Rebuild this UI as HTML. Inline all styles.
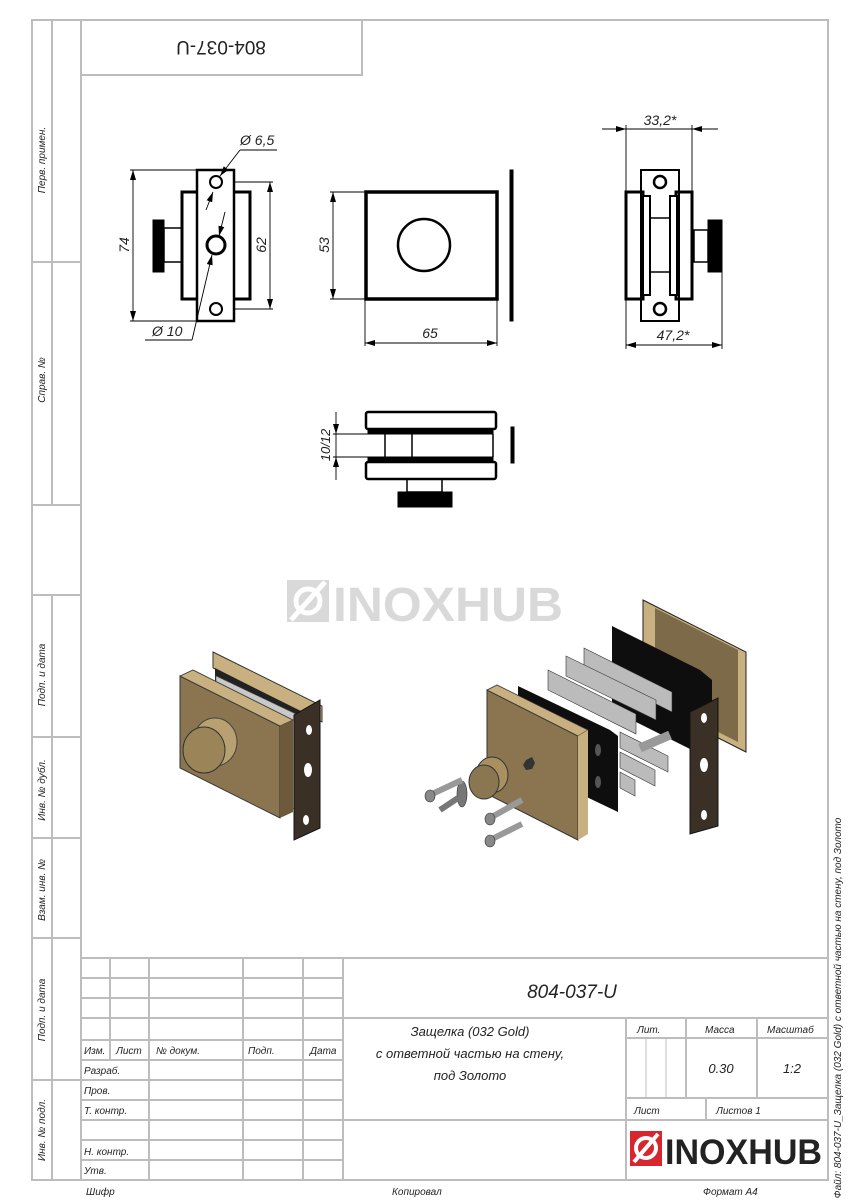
<!DOCTYPE html>
<html><head><meta charset="utf-8"><style>
html,body{margin:0;padding:0;background:#fff;}
svg{display:block;}
text{font-family:"Liberation Sans","DejaVu Sans",sans-serif;font-style:italic;fill:#222;}
.g{stroke:#bdbdbd;stroke-width:2;fill:none;}
.k{stroke:#000;fill:none;}
.d{stroke:#000;stroke-width:0.9;fill:none;}
</style></head><body>
<svg width="848" height="1200" viewBox="0 0 848 1200" xmlns="http://www.w3.org/2000/svg">
<defs>
<marker id="a" markerWidth="10" markerHeight="6" refX="10" refY="3" orient="auto-start-reverse" markerUnits="userSpaceOnUse"><path d="M0,0 L10,3 L0,6 z" fill="#000"/></marker>
</defs>
<!-- frame -->
<rect class="g" x="32" y="20" width="796" height="1160"/>
<line class="g" x1="81" y1="20" x2="81" y2="1180"/>
<line class="g" x1="52" y1="20" x2="52" y2="505"/>
<line class="g" x1="32" y1="262" x2="81" y2="262"/>
<line class="g" x1="32" y1="505" x2="81" y2="505"/>
<line class="g" x1="52" y1="595" x2="52" y2="1180"/>
<line class="g" x1="32" y1="595" x2="81" y2="595"/>
<line class="g" x1="32" y1="737" x2="81" y2="737"/>
<line class="g" x1="32" y1="838" x2="81" y2="838"/>
<line class="g" x1="32" y1="938" x2="81" y2="938"/>
<line class="g" x1="32" y1="1080" x2="81" y2="1080"/>
<rect class="g" x="81" y="20" width="281" height="55"/>
<text x="221" y="55" font-size="19" text-anchor="middle" transform="rotate(180 221 48)" style="font-style:normal">804-037-U</text>
<g font-size="10" text-anchor="middle">
<text transform="translate(45,160) rotate(-90)">Перв. примен.</text>
<text transform="translate(45,380) rotate(-90)">Справ. №</text>
<text transform="translate(45,675) rotate(-90)">Подп. и дата</text>
<text transform="translate(45,790) rotate(-90)">Инв. № дубл.</text>
<text transform="translate(45,890) rotate(-90)">Взам. инв. №</text>
<text transform="translate(45,1010) rotate(-90)">Подп. и дата</text>
<text transform="translate(45,1130) rotate(-90)">Инв. № подл.</text>
<text transform="translate(841,1008) rotate(-90)">Файл: 804-037-U_Защелка (032 Gold) с ответной частью на стену, под Золото</text>
</g>
<!-- title block -->
<g class="g">
<line x1="81" y1="958" x2="828" y2="958"/>
<line x1="343" y1="958" x2="343" y2="1180"/>
<line x1="110" y1="958" x2="110" y2="1060"/>
<line x1="149" y1="958" x2="149" y2="1180"/>
<line x1="243" y1="958" x2="243" y2="1180"/>
<line x1="303" y1="958" x2="303" y2="1180"/>
<line x1="81" y1="978" x2="343" y2="978"/>
<line x1="81" y1="998" x2="343" y2="998"/>
<line x1="81" y1="1018" x2="828" y2="1018"/>
<line x1="81" y1="1040" x2="343" y2="1040"/>
<line x1="81" y1="1060" x2="343" y2="1060"/>
<line x1="81" y1="1080" x2="343" y2="1080"/>
<line x1="81" y1="1100" x2="343" y2="1100"/>
<line x1="81" y1="1120" x2="828" y2="1120"/>
<line x1="81" y1="1140" x2="343" y2="1140"/>
<line x1="81" y1="1160" x2="343" y2="1160"/>
<line x1="626" y1="1018" x2="626" y2="1180"/>
<line x1="686" y1="1018" x2="686" y2="1098"/>
<line x1="757" y1="1018" x2="757" y2="1098"/>
<line x1="626" y1="1038" x2="828" y2="1038"/>
<line x1="626" y1="1098" x2="828" y2="1098"/>
<line x1="706" y1="1098" x2="706" y2="1120"/>
<line x1="646" y1="1038" x2="646" y2="1098" stroke-width="1"/>
<line x1="666" y1="1038" x2="666" y2="1098" stroke-width="1"/>
</g>
<g font-size="10">
<text x="84" y="1054">Изм.</text><text x="116" y="1054">Лист</text><text x="156" y="1054">№ докум.</text><text x="248" y="1054">Подп.</text><text x="310" y="1054">Дата</text>
<text x="84" y="1074">Разраб.</text><text x="84" y="1094">Пров.</text><text x="84" y="1114">Т. контр.</text>
<text x="84" y="1155">Н. контр.</text><text x="84" y="1174">Утв.</text>
<text x="86" y="1195">Шифр</text><text x="392" y="1195">Копировал</text><text x="703" y="1195">Формат A4</text>
<text x="637" y="1033">Лит.</text><text x="705" y="1033">Масса</text><text x="767" y="1033">Масштаб</text>
<text x="634" y="1114">Лист</text><text x="716" y="1114">Листов 1</text>
</g>
<text x="572" y="998" font-size="19" text-anchor="middle">804-037-U</text>
<g font-size="13" text-anchor="middle">
<text x="470" y="1036">Защелка (032 Gold)</text>
<text x="470" y="1058">с ответной частью на стену,</text>
<text x="470" y="1080">под Золото</text>
<text x="721" y="1073">0.30</text><text x="792" y="1073">1:2</text>
</g>
<!-- logo -->
<rect x="630" y="1131" width="32" height="35" fill="#d7262d"/>
<circle cx="646" cy="1148" r="10" fill="none" stroke="#fff" stroke-width="4"/>
<line x1="634" y1="1162" x2="658" y2="1134" stroke="#fff" stroke-width="4"/>
<text x="665" y="1164" font-size="35" font-weight="bold" textLength="157" lengthAdjust="spacingAndGlyphs" style="fill:#222;font-style:normal">INOXHUB</text>
<!-- watermark -->
<rect x="287" y="580" width="42" height="42" fill="#d9d9d9"/>
<circle cx="308" cy="601" r="12" fill="none" stroke="#fff" stroke-width="5"/>
<line x1="291" y1="620" x2="325" y2="582" stroke="#fff" stroke-width="5"/>
<text x="333" y="621" font-size="48" font-weight="bold" textLength="230" lengthAdjust="spacingAndGlyphs" style="fill:#d9d9d9;font-style:normal">INOXHUB</text>

<!-- view 1 -->
<g class="k">
<rect x="182" y="192" width="68" height="107" stroke-width="3"/>
<rect x="197" y="170" width="37" height="151" stroke-width="2.5" fill="#fff"/>
<rect x="164" y="228" width="18" height="34" stroke-width="1.5"/>
<rect x="153" y="220" width="11" height="52" fill="#000"/>
<circle cx="216" cy="182" r="6" stroke-width="2"/>
<circle cx="216" cy="245" r="9" stroke-width="3"/>
<circle cx="216" cy="309" r="6" stroke-width="2"/>
</g>
<g class="d">
<line x1="130" y1="170" x2="197" y2="170"/><line x1="130" y1="321" x2="197" y2="321"/>
<line x1="133" y1="170" x2="133" y2="321" marker-start="url(#a)" marker-end="url(#a)"/>
<line x1="234" y1="182" x2="273" y2="182"/><line x1="234" y1="309" x2="273" y2="309"/>
<line x1="270" y1="182" x2="270" y2="309" marker-start="url(#a)" marker-end="url(#a)"/>
<line x1="277" y1="150" x2="240" y2="150"/><line x1="240" y1="150" x2="220" y2="176" marker-end="url(#a)"/>
<line x1="206" y1="210" x2="213" y2="192" marker-end="url(#a)"/>
<line x1="225" y1="212" x2="219" y2="236" marker-end="url(#a)"/>
<line x1="145" y1="340" x2="192" y2="340"/><line x1="192" y1="340" x2="212" y2="255" marker-end="url(#a)"/>
</g>
<g font-size="14"><text x="240" y="145">Ø 6,5</text><text x="152" y="336">Ø 10</text>
<text transform="translate(129,245) rotate(-90)" text-anchor="middle">74</text>
<text transform="translate(266,245) rotate(-90)" text-anchor="middle">62</text>
<text transform="translate(329,245) rotate(-90)" text-anchor="middle">53</text>
<text x="430" y="338" text-anchor="middle">65</text>
<text x="660" y="125" text-anchor="middle">33,2*</text>
<text x="673" y="340" text-anchor="middle">47,2*</text>
<text transform="translate(330,445) rotate(-90)" text-anchor="middle" font-size="13">10/12</text>
</g>
<!-- view 2 -->
<g class="k">
<rect x="366" y="192" width="131" height="107" stroke-width="3.5"/>
<circle cx="424" cy="245" r="26" stroke-width="2.5"/>
<rect x="510" y="170" width="3" height="151" fill="#000" stroke-width="1"/>
</g>
<g class="d">
<line x1="330" y1="192" x2="366" y2="192"/><line x1="330" y1="299" x2="366" y2="299"/>
<line x1="333" y1="192" x2="333" y2="299" marker-start="url(#a)" marker-end="url(#a)"/>
<line x1="365" y1="299" x2="365" y2="346"/><line x1="497" y1="299" x2="497" y2="346"/>
<line x1="365" y1="343" x2="497" y2="343" marker-start="url(#a)" marker-end="url(#a)"/>
</g>
<!-- view 3 -->
<g class="k">
<rect x="626" y="192" width="17" height="107" stroke-width="3"/>
<rect x="676" y="192" width="16" height="107" stroke-width="3"/>
<rect x="641" y="170" width="38" height="151" stroke-width="2" fill="none"/>
<rect x="643" y="196" width="7" height="99" stroke-width="2" fill="#fff"/>
<rect x="670" y="196" width="7" height="99" stroke-width="2" fill="#fff"/>
<line x1="650" y1="218" x2="670" y2="218" stroke-width="1.5"/><line x1="650" y1="272" x2="670" y2="272" stroke-width="1.5"/>
<rect x="694" y="230" width="14" height="32" stroke-width="1.5"/>
<rect x="708" y="220" width="14" height="52" fill="#000"/>
<circle cx="660" cy="182" r="6" stroke-width="2.5"/>
<circle cx="660" cy="309" r="6" stroke-width="2.5"/>
</g>
<g class="d">
<line x1="626" y1="125" x2="626" y2="192"/><line x1="692" y1="125" x2="692" y2="192"/>
<line x1="602" y1="129" x2="626" y2="129" marker-end="url(#a)"/><line x1="718" y1="129" x2="692" y2="129" marker-end="url(#a)"/>
<line x1="626" y1="129" x2="692" y2="129"/>
<line x1="626" y1="299" x2="626" y2="349"/><line x1="722" y1="272" x2="722" y2="349"/>
<line x1="626" y1="345" x2="722" y2="345" marker-start="url(#a)" marker-end="url(#a)"/>
</g>
<!-- view 4 -->
<g class="k">
<rect x="366" y="412" width="130" height="17" rx="2" stroke-width="2.5"/>
<rect x="368" y="429" width="125" height="5" fill="#000"/>
<rect x="368" y="457" width="125" height="5" fill="#000"/>
<rect x="366" y="462" width="130" height="17" rx="2" stroke-width="2.5"/>
<line x1="385" y1="434" x2="385" y2="457" stroke-width="1.5"/><line x1="412" y1="434" x2="412" y2="457" stroke-width="1.5"/>
<line x1="493" y1="434" x2="493" y2="457" stroke-width="1.5"/>
<rect x="407" y="479" width="35" height="13" stroke-width="1.5"/>
<rect x="398" y="492" width="54" height="15" fill="#000"/>
<rect x="511" y="427" width="3" height="36" fill="#000" stroke-width="1"/>
</g>
<g class="d">
<line x1="333" y1="434" x2="370" y2="434"/><line x1="333" y1="457" x2="370" y2="457"/>
<line x1="336" y1="412" x2="336" y2="434" marker-end="url(#a)"/><line x1="336" y1="480" x2="336" y2="457" marker-end="url(#a)"/>
<line x1="336" y1="434" x2="336" y2="457"/>
</g>

<!-- 3D left assembly -->
<g>
<polygon points="213,652 322,706 322,722 213,668" fill="#c8b080" stroke="#333" stroke-width="1"/>
<polygon points="215,668 310,716 310,730 215,682" fill="#222"/>
<polygon points="216,676 300,716 300,812 216,772" fill="#c9c9c9" stroke="#555" stroke-width="0.6"/>
<polygon points="180,676 280,726 280,818 180,768" fill="#8a7550" stroke="#333" stroke-width="1"/>
<polygon points="180,676 193,670 293,720 280,726" fill="#c8b080" stroke="#333" stroke-width="0.8"/>
<polygon points="280,726 293,720 293,812 280,818" fill="#6e5a3a"/>
<polygon points="294,715 320,700 320,828 294,840" fill="#3a3025" stroke="#111" stroke-width="1"/>
<ellipse cx="309" cy="730" rx="3" ry="5" fill="#fff"/><ellipse cx="308" cy="770" rx="4" ry="7" fill="#fff"/><ellipse cx="306" cy="820" rx="3" ry="5" fill="#fff"/>
<ellipse cx="215" cy="742" rx="22" ry="24" fill="#b8a070" stroke="#444" stroke-width="1"/>
<ellipse cx="204" cy="750" rx="21" ry="23" fill="#9a8458" stroke="#333" stroke-width="1"/>
</g>
<!-- 3D exploded -->
<g>
<polygon points="643,600 746,652 746,752 643,700" fill="#c8b080" stroke="#222" stroke-width="1"/>
<polygon points="655,608 738,650 738,742 655,700" fill="#7d6a48"/>
<polygon points="612,626 700,670 712,680 712,760 624,716 612,706" fill="#0e0e0e"/>
<polygon points="584,648 672,692 672,712 584,668" fill="#bbb" stroke="#333" stroke-width="0.6"/>
<polygon points="566,656 656,700 656,720 566,676" fill="#bbb" stroke="#333" stroke-width="0.6"/>
<polygon points="548,670 636,714 636,734 548,690" fill="#bbb" stroke="#333" stroke-width="0.6"/>
<polygon points="620,732 668,756 668,772 620,748" fill="#bbb" stroke="#333" stroke-width="0.6"/>
<polygon points="620,752 655,770 655,786 620,768" fill="#bbb" stroke="#333" stroke-width="0.6"/>
<polygon points="620,772 635,780 635,796 620,788" fill="#bbb" stroke="#333" stroke-width="0.6"/>
<polygon points="518,686 610,730 618,736 618,812 526,768 518,760" fill="#0e0e0e"/>
<ellipse cx="598" cy="750" rx="3" ry="6" fill="#555"/><ellipse cx="598" cy="782" rx="3" ry="6" fill="#555"/>
<polygon points="690,712 718,698 718,826 690,834" fill="#3a3025" stroke="#111" stroke-width="1"/>
<ellipse cx="704" cy="718" rx="3" ry="5" fill="#fff"/><ellipse cx="704" cy="765" rx="4" ry="7" fill="#fff"/><ellipse cx="704" cy="815" rx="3" ry="5" fill="#fff"/>
<polygon points="487,690 578,736 578,840 487,794" fill="#8a7550" stroke="#333" stroke-width="1"/>
<polygon points="487,690 497,685 588,730 578,736" fill="#c8b080" stroke="#333" stroke-width="0.8"/>
<polygon points="578,736 588,730 588,834 578,840" fill="#c8b080"/>
<polygon points="526,760 532,757 535,763 532,769 526,770 523,765" fill="#333"/>
<ellipse cx="492" cy="775" rx="16" ry="18" fill="#a89060" stroke="#333" stroke-width="1"/>
<ellipse cx="484" cy="782" rx="15" ry="17" fill="#8a7650" stroke="#333" stroke-width="1"/>
<ellipse cx="462" cy="794" rx="5" ry="13" fill="#777" stroke="#333" stroke-width="0.6"/>
<line x1="440" y1="810" x2="458" y2="798" stroke="#777" stroke-width="6"/>
<line x1="430" y1="795" x2="462" y2="780" stroke="#999" stroke-width="6"/>
<ellipse cx="430" cy="796" rx="5" ry="6" fill="#888" stroke="#333" stroke-width="0.6"/>
<line x1="490" y1="818" x2="522" y2="800" stroke="#999" stroke-width="6"/>
<ellipse cx="490" cy="819" rx="5" ry="6" fill="#888" stroke="#333" stroke-width="0.6"/>
<line x1="490" y1="840" x2="522" y2="824" stroke="#999" stroke-width="6"/>
<ellipse cx="490" cy="841" rx="5" ry="6" fill="#888" stroke="#333" stroke-width="0.6"/>
<line x1="640" y1="748" x2="670" y2="735" stroke="#999" stroke-width="9"/>
</g>
</svg>
</body></html>
